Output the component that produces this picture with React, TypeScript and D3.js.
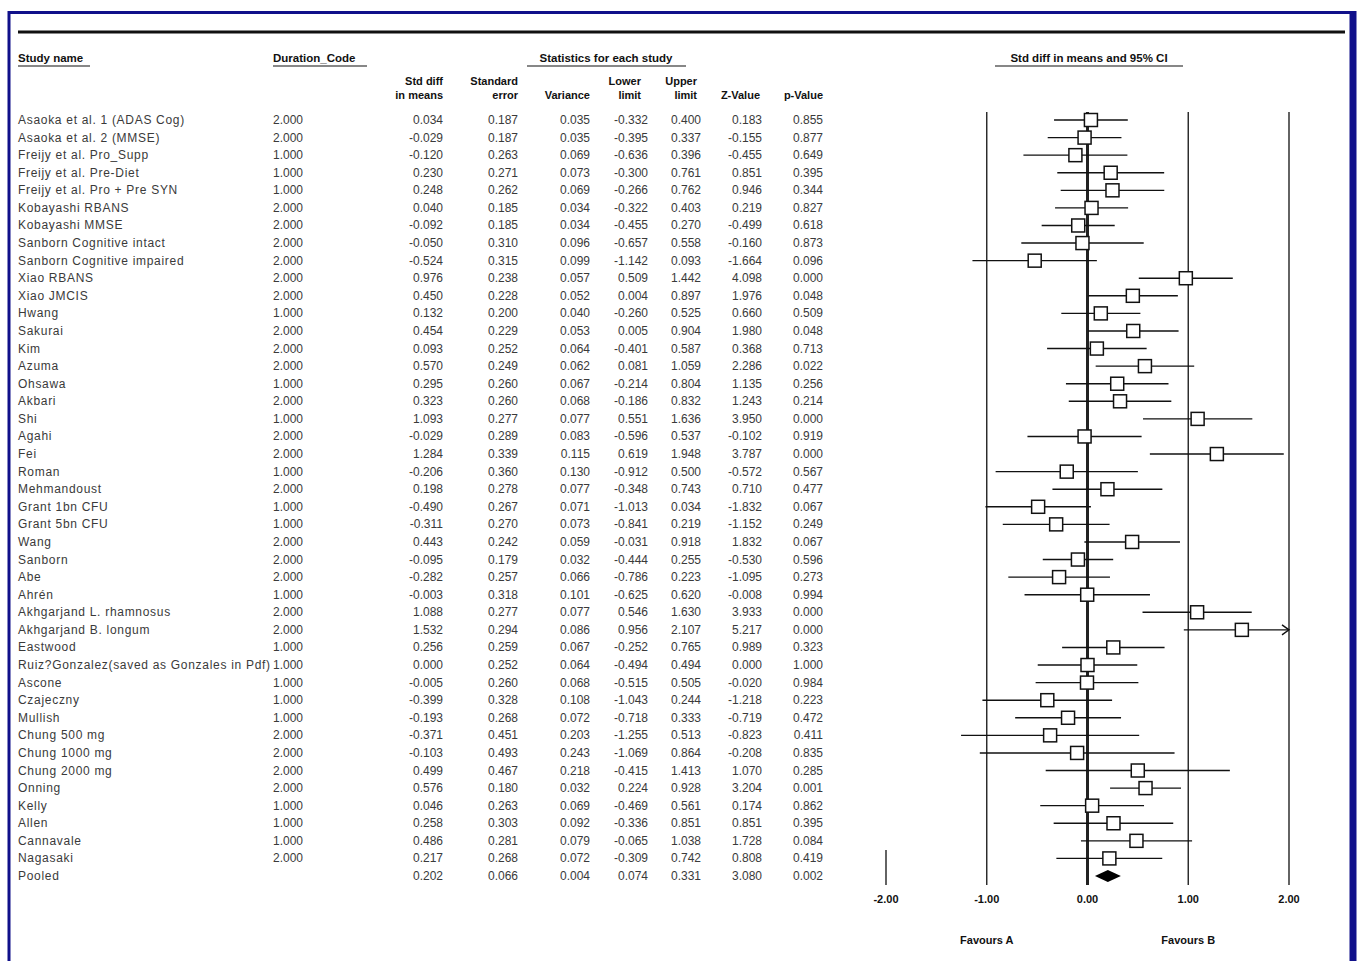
import React from 'react';
import * as d3 from 'd3';

// study rows
const studyNames = [
  'Asaoka et al. 1 (ADAS Cog)', 'Asaoka et al. 2 (MMSE)', 'Freijy et al. Pro_Supp', 'Freijy et al. Pre-Diet',
  'Freijy et al. Pro + Pre SYN', 'Kobayashi RBANS', 'Kobayashi MMSE', 'Sanborn Cognitive intact',
  'Sanborn Cognitive impaired', 'Xiao RBANS', 'Xiao JMCIS', 'Hwang', 'Sakurai', 'Kim', 'Azuma', 'Ohsawa',
  'Akbari', 'Shi', 'Agahi', 'Fei', 'Roman', 'Mehmandoust', 'Grant 1bn CFU', 'Grant 5bn CFU', 'Wang',
  'Sanborn', 'Abe', 'Ahrén', 'Akhgarjand L. rhamnosus', 'Akhgarjand B. longum', 'Eastwood',
  'Ruiz?Gonzalez(saved as Gonzales in Pdf)', 'Ascone', 'Czajeczny', 'Mullish', 'Chung 500 mg',
  'Chung 1000 mg', 'Chung 2000 mg', 'Onning', 'Kelly', 'Allen', 'Cannavale', 'Nagasaki'
];
const durationCodes = [2, 2, 1, 1, 1, 2, 2, 2, 2, 2, 2, 1, 2, 2, 2, 1, 2, 1, 2, 2, 1, 2, 1, 1, 2, 2, 2, 1, 2, 2, 1, 1, 1, 1, 1, 2, 2, 2, 2, 1, 1, 1, 2];
const stdDiff = [0.034, -0.029, -0.120, 0.230, 0.248, 0.040, -0.092, -0.050, -0.524, 0.976, 0.450, 0.132, 0.454, 0.093, 0.570, 0.295, 0.323, 1.093, -0.029, 1.284, -0.206, 0.198, -0.490, -0.311, 0.443, -0.095, -0.282, -0.003, 1.088, 1.532, 0.256, 0.000, -0.005, -0.399, -0.193, -0.371, -0.103, 0.499, 0.576, 0.046, 0.258, 0.486, 0.217];
const stdErr = [0.187, 0.187, 0.263, 0.271, 0.262, 0.185, 0.185, 0.310, 0.315, 0.238, 0.228, 0.200, 0.229, 0.252, 0.249, 0.260, 0.260, 0.277, 0.289, 0.339, 0.360, 0.278, 0.267, 0.270, 0.242, 0.179, 0.257, 0.318, 0.277, 0.294, 0.259, 0.252, 0.260, 0.328, 0.268, 0.451, 0.493, 0.467, 0.180, 0.263, 0.303, 0.281, 0.268];
const variance = [0.035, 0.035, 0.069, 0.073, 0.069, 0.034, 0.034, 0.096, 0.099, 0.057, 0.052, 0.040, 0.053, 0.064, 0.062, 0.067, 0.068, 0.077, 0.083, 0.115, 0.130, 0.077, 0.071, 0.073, 0.059, 0.032, 0.066, 0.101, 0.077, 0.086, 0.067, 0.064, 0.068, 0.108, 0.072, 0.203, 0.243, 0.218, 0.032, 0.069, 0.092, 0.079, 0.072];
const lowerLimit = [-0.332, -0.395, -0.636, -0.300, -0.266, -0.322, -0.455, -0.657, -1.142, 0.509, 0.004, -0.260, 0.005, -0.401, 0.081, -0.214, -0.186, 0.551, -0.596, 0.619, -0.912, -0.348, -1.013, -0.841, -0.031, -0.444, -0.786, -0.625, 0.546, 0.956, -0.252, -0.494, -0.515, -1.043, -0.718, -1.255, -1.069, -0.415, 0.224, -0.469, -0.336, -0.065, -0.309];
const upperLimit = [0.400, 0.337, 0.396, 0.761, 0.762, 0.403, 0.270, 0.558, 0.093, 1.442, 0.897, 0.525, 0.904, 0.587, 1.059, 0.804, 0.832, 1.636, 0.537, 1.948, 0.500, 0.743, 0.034, 0.219, 0.918, 0.255, 0.223, 0.620, 1.630, 2.107, 0.765, 0.494, 0.505, 0.244, 0.333, 0.513, 0.864, 1.413, 0.928, 0.561, 0.851, 1.038, 0.742];
const zValue = [0.183, -0.155, -0.455, 0.851, 0.946, 0.219, -0.499, -0.160, -1.664, 4.098, 1.976, 0.660, 1.980, 0.368, 2.286, 1.135, 1.243, 3.950, -0.102, 3.787, -0.572, 0.710, -1.832, -1.152, 1.832, -0.530, -1.095, -0.008, 3.933, 5.217, 0.989, 0.000, -0.020, -1.218, -0.719, -0.823, -0.208, 1.070, 3.204, 0.174, 0.851, 1.728, 0.808];
const pValue = [0.855, 0.877, 0.649, 0.395, 0.344, 0.827, 0.618, 0.873, 0.096, 0.000, 0.048, 0.509, 0.048, 0.713, 0.022, 0.256, 0.214, 0.000, 0.919, 0.000, 0.567, 0.477, 0.067, 0.249, 0.067, 0.596, 0.273, 0.994, 0.000, 0.000, 0.323, 1.000, 0.984, 0.223, 0.472, 0.411, 0.835, 0.285, 0.001, 0.862, 0.395, 0.084, 0.419];

// pooled estimate
const pooled = { name: 'Pooled', stdDiff: 0.202, stdErr: 0.066, variance: 0.004, lower: 0.074, upper: 0.331, z: 3.080, p: 0.002 };

const axisTicks = [-2, -1, 0, 1, 2];

const fmt = (v: number) => v.toFixed(3);

const App = () => {
  const width = 1361;
  const height = 961;
  const font = '"Liberation Sans", Arial, sans-serif';
  const textColor = '#3a3a3a';

  const nRows = studyNames.length + 1;
  const yScale = d3.scalePoint<number>()
    .domain(d3.range(nRows))
    .range([120, 876]);

  const xScale = d3.scaleLinear()
    .domain([-2, 2])
    .range([886, 1289]);

  // numeric columns, right aligned
  const cols = [
    { x: 443, vals: stdDiff, pooled: pooled.stdDiff },
    { x: 518, vals: stdErr, pooled: pooled.stdErr },
    { x: 590, vals: variance, pooled: pooled.variance },
    { x: 648, vals: lowerLimit, pooled: pooled.lower },
    { x: 701, vals: upperLimit, pooled: pooled.upper },
    { x: 762, vals: zValue, pooled: pooled.z },
    { x: 823, vals: pValue, pooled: pooled.p },
  ];

  const subHeaders = [
    { x: 443, l1: 'Std diff', l2: 'in means' },
    { x: 518, l1: 'Standard', l2: 'error' },
    { x: 590, l1: '', l2: 'Variance' },
    { x: 641, l1: 'Lower', l2: 'limit' },
    { x: 697, l1: 'Upper', l2: 'limit' },
    { x: 760, l1: '', l2: 'Z-Value' },
    { x: 823, l1: '', l2: 'p-Value' },
  ];

  const boxSize = 13;
  const plotTop = 112;
  const plotBottom = 885;
  const xMax = xScale.domain()[1];

  return (
    <svg width={width} height={height} style={{ position: 'absolute', left: 0, top: 0, background: 'white' }}
      fontFamily={font}>
      {/* frame */}
      <rect x={9} y={12.5} width={1344} height={960} fill='none' stroke='#10108a' strokeWidth={3} />
      <line x1={1353} x2={1353} y1={11} y2={961} stroke='#10108a' strokeWidth={7} />

      {/* top rule */}
      <line x1={18} x2={1345} y1={32} y2={32} stroke='#111' strokeWidth={3} />

      {/* group headers */}
      <g fontWeight='bold' fontSize={11.5} fill='#111'>
        <text x={18} y={62}>Study name</text>
        <text x={273} y={62}>Duration_Code</text>
        <text x={606} y={62} textAnchor='middle'>Statistics for each study</text>
        <text x={1089} y={62} textAnchor='middle'>Std diff in means and 95% CI</text>
      </g>
      <g stroke='#111' strokeWidth={1.2}>
        <line x1={18} x2={90} y1={66} y2={66} />
        <line x1={273} x2={367} y1={66} y2={66} />
        <line x1={527} x2={686} y1={66} y2={66} />
        <line x1={995} x2={1183} y1={66} y2={66} />
      </g>

      {/* column headers */}
      <g fontWeight='bold' fontSize={11} fill='#111' textAnchor='end'>
        {subHeaders.map((h, i) => (
          <g key={i}>
            {h.l1 && <text x={h.x} y={85}>{h.l1}</text>}
            <text x={h.x} y={99}>{h.l2}</text>
          </g>
        ))}
      </g>

      {/* table body */}
      <g fontSize={12} fill={textColor}>
        {studyNames.map((name, i) => (
          <g key={i}>
            <text x={18} y={yScale(i)! + 4} letterSpacing={0.7}>{name}</text>
            <text x={273} y={yScale(i)! + 4}>{fmt(durationCodes[i])}</text>
            {cols.map((c, j) => (
              <text key={j} x={c.x} y={yScale(i)! + 4} textAnchor='end'>{fmt(c.vals[i])}</text>
            ))}
          </g>
        ))}
        <text x={18} y={yScale(nRows - 1)! + 4} letterSpacing={0.7}>{pooled.name}</text>
        {cols.map((c, j) => (
          <text key={j} x={c.x} y={yScale(nRows - 1)! + 4} textAnchor='end'>{fmt(c.pooled)}</text>
        ))}
      </g>

      {/* forest plot reference lines */}
      <g stroke='#222'>
        {axisTicks.map(t => (
          <line key={t} x1={xScale(t)} x2={xScale(t)}
            y1={t === -2 ? 850 : plotTop} y2={plotBottom}
            strokeWidth={t === 0 ? 3 : 1.4} />
        ))}
      </g>

      {/* study CIs and boxes */}
      <g>
        {studyNames.map((_, i) => {
          const y = yScale(i)!;
          const lo = xScale(Math.max(lowerLimit[i], -2));
          const hiClipped = upperLimit[i] > xMax;
          const hi = xScale(Math.min(upperLimit[i], xMax));
          const cx = xScale(stdDiff[i]);
          return (
            <g key={i}>
              <line x1={lo} x2={hi} y1={y} y2={y} stroke='#111' strokeWidth={1.4} />
              {hiClipped && (
                <path d={`M${hi - 7},${y - 5}L${hi},${y}L${hi - 7},${y + 5}`} fill='none' stroke='#111' strokeWidth={1.4} />
              )}
              <rect x={cx - boxSize / 2} y={y - boxSize / 2} width={boxSize} height={boxSize}
                fill='white' stroke='#111' strokeWidth={1.5} />
            </g>
          );
        })}
        {(() => {
          const y = yScale(nRows - 1)!;
          const d = `M${xScale(pooled.lower)},${y}L${xScale(pooled.stdDiff)},${y - 6}L${xScale(pooled.upper)},${y}L${xScale(pooled.stdDiff)},${y + 6}Z`;
          return <path d={d} fill='#000' />;
        })()}
      </g>

      {/* axis labels */}
      <g fontWeight='bold' fontSize={11} fill='#111' textAnchor='middle'>
        {axisTicks.map(t => (
          <text key={t} x={xScale(t)} y={903}>{t.toFixed(2)}</text>
        ))}
        <text x={xScale(-1)} y={944}>Favours A</text>
        <text x={xScale(1)} y={944}>Favours B</text>
      </g>
    </svg>
  );
};

export default App;
